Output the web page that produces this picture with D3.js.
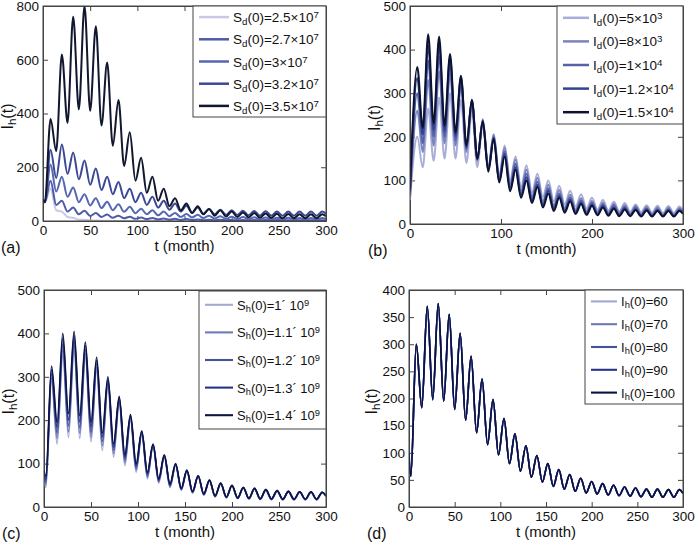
<!DOCTYPE html>
<html><head><meta charset="utf-8">
<script src="https://cdn.jsdelivr.net/npm/d3@7"></script>
<style>body{margin:0;background:#fff}svg{font-family:"Liberation Sans",Arial,sans-serif}</style>
</head><body><svg id="c" width="695" height="546"></svg>
<script>
// ---------- data ----------
const peakT = [8,20,32,44,56,68,80,92,104,116,128,140,152,164,176,188,200,212,224,236,248,260,272,284,296];
const troughT = [14,26,38,50,62,74,86,98,110,122,134,146,158,170,182,194,206,218,230,242,254,266,278,290];

// panel (a)
const aLabels = [["2.5","7"],["2.7","7"],["3","7"],["3.2","7"],["3.5","7"]];
const aStart = [80,80,80,80,80];
const aPeaks = [
 [120,35,12,5,2,1,0,0,0,0,0,0,0,0,0,0,0,0,0,0,0,0,0,0,0],
 [150,75,50,38,30,24,20,16,13,11,9,8,7,6,5,5,4,4,4,4,4,3,3,3,3],
 [210,165,125,100,85,72,62,53,46,40,35,30,26,23,20,18,16,15,14,13,12,12,11,11,11],
 [265,285,255,225,195,165,145,120,105,90,75,65,57,50,45,42,40,38,37,36,35,35,35,35,35],
 [380,620,760,800,725,590,450,330,235,165,120,85,65,55,45,40,35,32,30,28,27,26,25,25,25]];
const aTroughs = [
 [40,15,5,2,1,0,0,0,0,0,0,0,0,0,0,0,0,0,0,0,0,0,0,0],
 [60,35,25,19,15,12,10,8,7,6,5,4,4,3,3,3,2,2,2,2,2,2,2,2],
 [110,90,70,58,48,40,34,29,25,21,18,15,13,11,9,8,7,6,6,5,5,5,5,5],
 [160,175,155,135,115,100,85,70,60,50,42,35,30,27,25,23,22,21,20,20,20,20,20,20],
 [260,365,415,410,355,280,205,150,105,75,55,40,30,25,20,17,15,13,12,11,10,10,10,10]];
// panel (b)
const bLabels = [["5","3"],["8","3"],["1","4"],["1.2","4"],["1.5","4"]];
const bStart = [55,62,68,74,80];
const bPeaks = [
 [200,265,290,300,285,260,230,205,180,155,135,115,100,88,76,68,60,55,51,48,45,43,42,41,40],
 [260,330,350,345,320,280,240,205,175,148,125,106,90,78,67,59,53,49,46,43,41,39,38,37,36],
 [300,375,385,370,330,283,238,200,167,138,115,97,82,70,61,54,49,45,42,39,37,35,34,34,33],
 [335,410,410,382,336,284,236,197,161,131,107,90,76,65,56,50,45,41,38,36,34,33,32,32,31],
 [360,435,430,390,340,285,235,195,155,125,100,85,70,60,52,46,42,38,35,33,32,31,30,30,30]];
const bTroughs = [
 [130,145,150,150,140,130,125,110,100,85,72,62,52,45,40,36,33,31,29,28,27,26,25,25],
 [165,180,185,180,165,145,130,108,92,76,63,52,43,37,33,30,28,26,25,24,23,22,21,21],
 [185,200,200,192,172,148,126,102,85,69,57,46,38,32,28,26,24,23,22,21,20,20,19,19],
 [205,215,213,202,176,149,123,98,80,64,52,42,34,29,25,23,22,21,20,19,19,18,18,18],
 [220,230,225,210,180,150,120,95,75,60,48,38,30,26,23,21,20,19,18,18,17,17,17,17]];
// panel (c)
const cLabels = ["1","1.1","1.2","1.3","1.4"];
const cStart = [60,66,72,78,85];
const cPeaks = [
 [290,350,360,345,315,280,240,200,168,140,115,96,82,70,60,53,48,44,41,38,36,35,34,33,33],
 [298,362,372,354,322,285,244,204,170,142,117,97,83,71,61,54,49,44,42,39,37,35,34,34,33],
 [307,375,384,363,330,290,248,207,172,143,118,98,84,71,61,54,49,45,42,39,37,36,35,34,34],
 [316,388,395,372,338,295,252,210,174,144,119,99,84,72,62,55,50,45,43,40,38,36,35,35,34],
 [325,400,405,380,345,300,255,213,175,145,120,100,85,72,62,55,50,45,43,40,38,36,35,35,34]];
const cTroughs = [
 [145,160,158,150,130,115,95,80,65,55,45,38,32,27,23,21,19,18,17,17,16,16,16,16],
 [158,173,170,161,141,123,102,85,69,58,47,40,33,28,24,22,20,19,18,17,17,17,17,17],
 [170,186,182,172,151,131,109,90,73,60,49,41,34,29,25,22,20,19,18,18,17,17,17,17],
 [183,200,196,184,161,138,115,95,77,63,51,42,35,30,25,23,21,20,19,18,18,18,18,18],
 [195,215,210,195,170,145,120,100,80,65,53,43,36,30,26,23,21,20,19,19,18,18,18,18]];
// panel (d)
const dLabels = ["60","70","80","90","100"];
const dStart = [60,70,80,90,100];
const dDip = 57;
const dPeaks = [300,370,375,355,320,278,236,198,163,135,113,95,80,69,60,53,47,43,40,37,35,33,33,32,32];
const dTroughs = [183,198,195,180,160,137,115,96,80,66,55,46,38,33,29,26,24,22,21,20,19,18,18,18];

const aColors = ["#c9c9e6","#4d5ba8","#5566b2","#3b4994","#11172e"];
const bColors = ["#a9aed6","#7a84bf","#5562a8","#34438f","#0c1230"];
const cColors = ["#a3a9d3","#6f7bb8","#46539c","#263386","#0d1442"];
const dColors = ["#a0a7d2","#6d79b6","#44529c","#27348a","#0b1240"];

// ---------- drawing ----------
const svg = d3.select("#c");
function seriesPts(start, peaks, troughs, dip){
  const pts=[[0,start]];
  if(dip!==undefined) pts.push([2,dip]);
  peakT.forEach((t,i)=>{pts.push([t,peaks[i]]); if(i<troughT.length) pts.push([troughT[i],troughs[i]]);});
  pts.push([300, (peaks[peaks.length-1]+troughs[troughs.length-1])/2]);
  return pts;
}
function richText(g, x, y, parts, fs){
  const t=g.append("text").attr("x",x).attr("y",y).attr("font-size",fs).attr("fill","#111");
  parts.forEach(p=>{
    const s=t.append("tspan").text(p.t);
    if(p.sub) s.attr("font-size",fs*0.72).attr("baseline-shift","-25%");
    if(p.sup) s.attr("font-size",fs*0.72).attr("baseline-shift","45%");
  });
  return t;
}
function panel(o){
  const g=svg.append("g");
  const x=d3.scaleLinear().domain([0,300]).range([o.x0,o.x1]);
  const y=d3.scaleLinear().domain([0,o.ymax]).range([o.y1,o.y0]);
  g.append("g").attr("transform",`translate(0,${o.y1})`).call(d3.axisBottom(x).tickValues(o.xt).tickSizeInner(-5).tickSizeOuter(0).tickPadding(4));
  g.append("g").attr("transform",`translate(${o.x0},0)`).call(d3.axisLeft(y).tickValues(o.yt).tickSizeInner(-5).tickSizeOuter(0).tickPadding(4));
  g.append("g").attr("transform",`translate(0,${o.y0})`).call(d3.axisTop(x).tickValues(o.xt).tickSizeInner(-5).tickSizeOuter(0).tickFormat(""));
  g.append("g").attr("transform",`translate(${o.x1},0)`).call(d3.axisRight(y).tickValues(o.yt).tickSizeInner(-5).tickSizeOuter(0).tickFormat(""));
  g.selectAll(".domain").attr("stroke","#444");
  g.selectAll(".tick line").attr("stroke","#444");
  g.selectAll(".tick text").attr("font-size",13.5).attr("fill","#111").attr("font-family","Liberation Sans, Arial");
  const line=d3.line().x(d=>x(d[0])).y(d=>y(d[1])).curve(d3.curveMonotoneX);
  const clip="clip"+o.id;
  g.append("clipPath").attr("id",clip).append("rect").attr("x",o.x0).attr("y",o.y0).attr("width",o.x1-o.x0).attr("height",o.y1-o.y0);
  const lg=g.append("g").attr("clip-path",`url(#${clip})`);
  o.series.forEach((s,i)=>{
    lg.append("path").attr("d",line(s)).attr("fill","none").attr("stroke",o.colors[i]).attr("stroke-width",o.lw);
  });
  g.append("rect").attr("x",o.x0).attr("y",o.y0).attr("width",o.x1-o.x0).attr("height",o.y1-o.y0).attr("fill","none").attr("stroke","#444");
  g.append("text").attr("x",(o.x0+o.x1)/2).attr("y",o.y1+30).attr("text-anchor","middle").attr("font-size",15).attr("fill","#111").text("t (month)");
  const yl=g.append("g").attr("transform",`translate(${o.x0-o.ylOff},${(o.y0+o.y1)/2}) rotate(-90)`);
  richText(yl,-16,0,[{t:"I"},{t:"h",sub:true},{t:"(t)"}],16);
  g.append("text").attr("x",o.x0-42).attr("y",o.y1+32).attr("font-size",16).attr("fill","#111").text(o.tag);
  const L=o.leg;
  g.append("rect").attr("x",L.x).attr("y",L.y).attr("width",L.w).attr("height",L.h).attr("fill","#fff").attr("stroke","#444");
  const rh=L.h/5;
  o.labels.forEach((parts,i)=>{
    const cy=L.y+rh*(i+0.5);
    g.append("line").attr("x1",L.x+6).attr("x2",L.x+6+L.lw).attr("y1",cy).attr("y2",cy).attr("stroke",o.colors[i]).attr("stroke-width",o.lw+0.5);
    richText(g,L.x+10+L.lw,cy+5,parts,L.fs);
  });
}

panel({id:"a",x0:43,x1:326,y0:6,y1:221,ymax:800,xt:[0,50,100,150,200,250,300],yt:[0,200,400,600,800],
  series:aPeaks.map((p,i)=>seriesPts(aStart[i],p,aTroughs[i],70)),colors:aColors,lw:2,ylOff:30,tag:"(a)",
  leg:{x:193,y:6,w:133,h:111,lw:30,fs:13.5},
  labels:aLabels.map(l=>[{t:"S"},{t:"d",sub:true},{t:"(0)="+l[0]+"×10"},{t:l[1],sup:true}])});
panel({id:"b",x0:410,x1:683,y0:6,y1:224,ymax:500,xt:[0,100,200,300],yt:[0,100,200,300,400,500],
  series:bPeaks.map((p,i)=>seriesPts(bStart[i],p,bTroughs[i])),colors:bColors,lw:2,ylOff:30,tag:"(b)",
  leg:{x:557,y:6,w:126,h:118,lw:26,fs:13.5},
  labels:bLabels.map(l=>[{t:"I"},{t:"d",sub:true},{t:"(0)="+l[0]+"×10"},{t:l[1],sup:true}])});
panel({id:"c",x0:44,x1:326,y0:290,y1:507,ymax:500,xt:[0,50,100,150,200,250,300],yt:[0,100,200,300,400,500],
  series:cPeaks.map((p,i)=>seriesPts(cStart[i],p,cTroughs[i],cStart[i]-15)),colors:cColors,lw:1.6,ylOff:30,tag:"(c)",
  leg:{x:199,y:291,w:127,h:138,lw:28,fs:13},
  labels:cLabels.map(l=>[{t:"S"},{t:"h",sub:true},{t:"(0)="+l+"´ 10"},{t:"9",sup:true}])});
panel({id:"d",x0:409,x1:683,y0:290,y1:507,ymax:400,xt:[0,50,100,150,200,250,300],yt:[0,50,100,150,200,250,300,350,400],
  series:dStart.map(s=>seriesPts(s,dPeaks,dTroughs,dDip)),colors:dColors,lw:1.6,ylOff:32,tag:"(d)",
  leg:{x:585,y:290,w:98,h:114,lw:26,fs:13},
  labels:dLabels.map(l=>[{t:"I"},{t:"h",sub:true},{t:"(0)="+l}])});
</script></body></html>
